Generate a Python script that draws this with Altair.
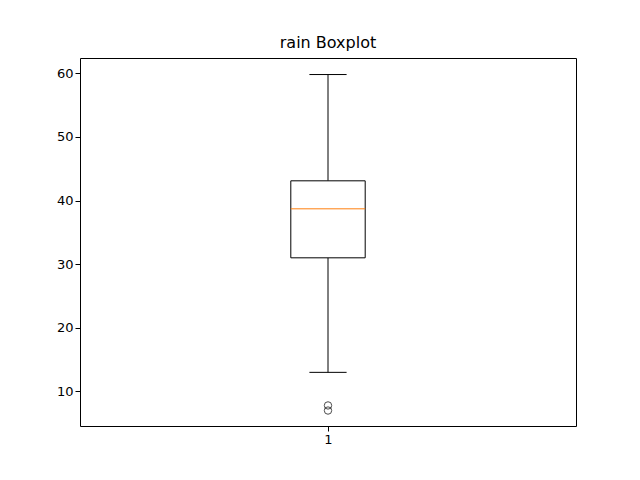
import altair as alt
import pandas as pd

# box statistics
whisker_low = [13.0]
q1 = [31.0]
median = [38.7]
q3 = [43.1]
whisker_high = [59.8]
outliers = [7.8, 7.0]
pos = 1
half_box = 0.075
half_cap = 0.0375

stats = pd.DataFrame({
    "x": [pos], "xl": [pos - half_box], "xr": [pos + half_box],
    "cl": [pos - half_cap], "cr": [pos + half_cap],
    "lo": whisker_low, "q1": q1, "med": median, "q3": q3, "hi": whisker_high,
})
out = pd.DataFrame({"x": [pos] * len(outliers), "v": outliers})

xs = alt.Scale(domain=[0.5, 1.5], nice=False, zero=False)
ys = alt.Scale(domain=[4.57, 62.4], nice=False, zero=False)
xax = alt.Axis(values=[1], format="d", title=None, grid=False, labelFontSize=13, tickColor="black", labelColor="black", domain=False, tickSize=5)
yax = alt.Axis(values=[10, 20, 30, 40, 50, 60], title=None, grid=False, labelFontSize=13, tickColor="black", labelColor="black", domain=False, tickSize=5)

base = alt.Chart(stats)
X = alt.X("x:Q", scale=xs, axis=xax)
whisk_lo = base.mark_rule(color="black").encode(x=X, y=alt.Y("lo:Q", scale=ys, axis=yax), y2="q1:Q")
whisk_hi = base.mark_rule(color="black").encode(x="x:Q", y="q3:Q", y2="hi:Q")
cap_lo = base.mark_rule(color="black").encode(x="cl:Q", x2="cr:Q", y="lo:Q")
cap_hi = base.mark_rule(color="black").encode(x="cl:Q", x2="cr:Q", y="hi:Q")
box = base.mark_rect(fill="white", stroke="black", strokeWidth=1).encode(x="xl:Q", x2="xr:Q", y="q1:Q", y2="q3:Q")
med = base.mark_rule(color="#ff7f0e").encode(x="xl:Q", x2="xr:Q", y="med:Q")
pts = alt.Chart(out).mark_point(shape="circle", size=55, color="black", filled=False, strokeWidth=1).encode(x="x:Q", y="v:Q")

chart = alt.layer(whisk_lo, whisk_hi, cap_lo, cap_hi, box, med, pts).properties(
    width=496, height=368,
    title=alt.TitleParams("rain Boxplot", fontSize=16, fontWeight="normal", font="DejaVu Sans", offset=7),
    autosize=alt.AutoSizeParams(type="none"),
    padding={"left": 72, "top": 50, "right": 56, "bottom": 46},
).configure_view(stroke="black", strokeWidth=1).configure_axis(labelFont="DejaVu Sans")

chart.save("out.html", embed_options={"renderer": "svg", "actions": False})
